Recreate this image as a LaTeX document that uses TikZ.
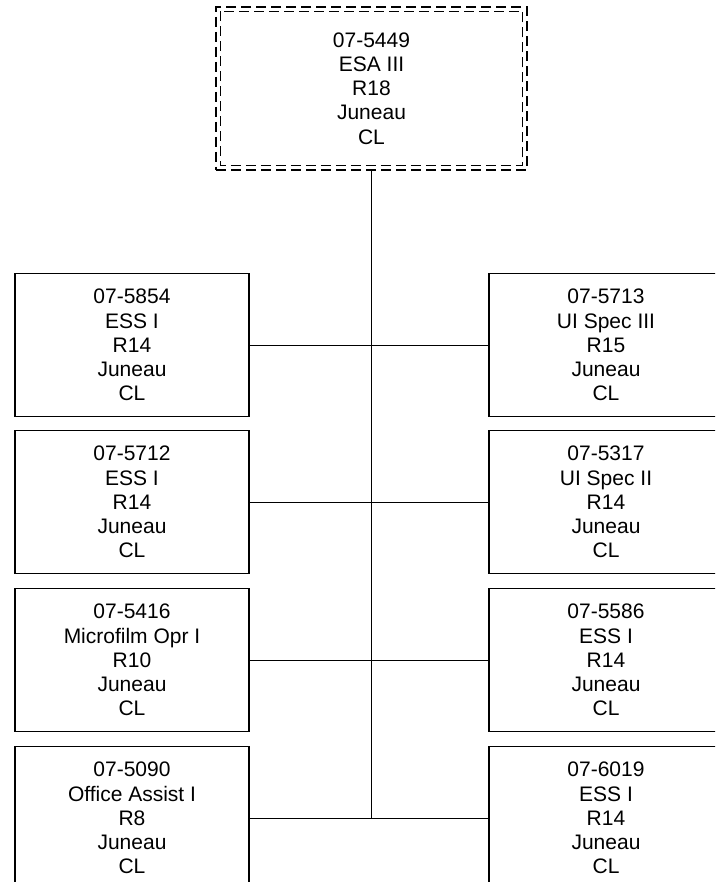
\documentclass[tikz,border=0pt]{standalone}
\usepackage{fontspec}
\setmainfont{Liberation Sans}
\usetikzlibrary{positioning,calc}

\begin{document}
\begin{tikzpicture}[
    x=1pt, y=-1pt,
    post/.style={draw, line width=1.2pt, minimum width=234pt, minimum height=143pt, inner sep=0pt, align=center, font=\fontsize{21}{24.2}\selectfont},
    head/.style={post, line width=1.4pt, dash pattern=on 10pt off 5pt, minimum width=311pt, minimum height=163pt},
    link/.style={draw, line width=0.9pt}
]
    \clip (0,0) rectangle (715,882);

    % Top position (double dashed frame)
    \node[head] (esa) at (371.5,88.5) {07-5449\\ESA III\\R18\\Juneau\\CL};
    \draw[line width=1.4pt, dash pattern=on 10pt off 5pt] ($(esa.north west)+(5,5)$) rectangle ($(esa.south east)+(-5,-5)$);

    % Left column
    \node[post] (l1) at (132,345) {07-5854\\ESS I\\R14\\Juneau\\CL};
    \node[post] (l2) at (132,502) {07-5712\\ESS I\\R14\\Juneau\\CL};
    \node[post] (l3) at (132,660) {07-5416\\Microfilm Opr I\\R10\\Juneau\\CL};
    \node[post] (l4) at (132,818) {07-5090\\Office Assist I\\R8\\Juneau\\CL};

    % Right column
    \node[post] (r1) at (606,345) {07-5713\\UI Spec III\\R15\\Juneau\\CL};
    \node[post] (r2) at (606,502) {07-5317\\UI Spec II\\R14\\Juneau\\CL};
    \node[post] (r3) at (606,660) {07-5586\\ESS I\\R14\\Juneau\\CL};
    \node[post] (r4) at (606,818) {07-6019\\ESS I\\R14\\Juneau\\CL};

    % Trunk
    \coordinate (j4) at (esa.south |- l4.east);
    \draw[link] (esa.south) -- (j4);

    % Branches
    \draw[link] (l1.east) -- (r1.west);
    \draw[link] (l2.east) -- (r2.west);
    \draw[link] (l3.east) -- (r3.west);
    \draw[link] (l4.east) -- (r4.west);
\end{tikzpicture}
\end{document}
